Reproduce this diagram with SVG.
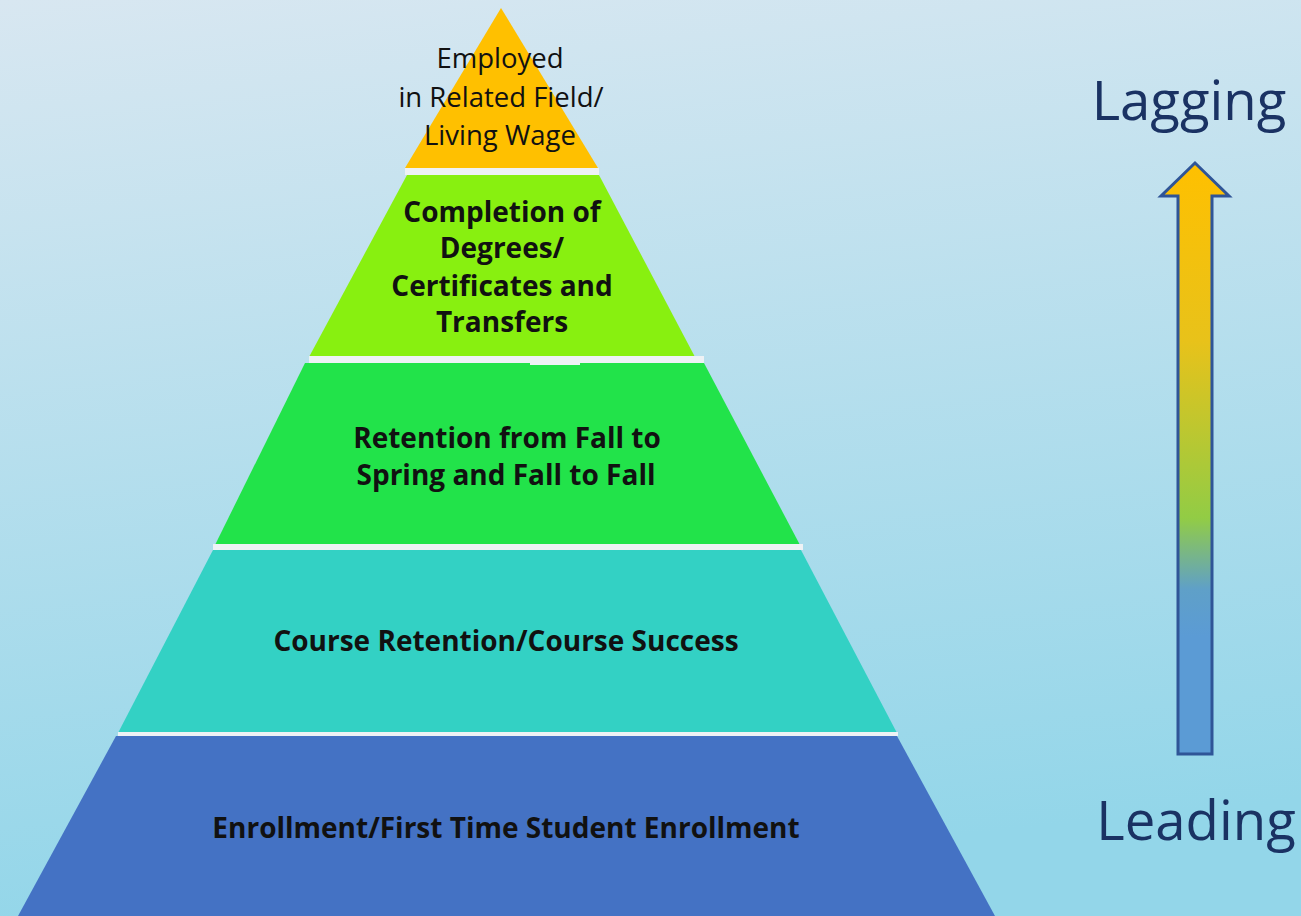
<svg xmlns="http://www.w3.org/2000/svg" width="1301" height="916" viewBox="0 0 1301 916">
<defs>
<linearGradient id="bg" x1="0" y1="0" x2="0.15" y2="1">
<stop offset="0" stop-color="#D8E7F1"/>
<stop offset="1" stop-color="#93D6E9"/>
</linearGradient>
<linearGradient id="arrowGrad" x1="0" y1="163" x2="0" y2="755" gradientUnits="userSpaceOnUse">
<stop offset="0" stop-color="#FFC000"/>
<stop offset="0.3" stop-color="#E8C21A"/>
<stop offset="0.6" stop-color="#92CC45"/>
<stop offset="0.72" stop-color="#5FA0C8"/>
<stop offset="0.8" stop-color="#5B9BD5"/>
<stop offset="1" stop-color="#5B9BD5"/>
</linearGradient>
<style>
.lbl{font-family:"Open Sans","Liberation Sans",sans-serif;font-weight:bold;font-size:28px;fill:#111;text-anchor:middle}
.top{font-family:"Open Sans","Liberation Sans",sans-serif;font-size:27.5px;fill:#111;text-anchor:middle}
.side{font-family:"Open Sans","Liberation Sans",sans-serif;font-size:54.5px;fill:#1A3263;text-anchor:middle}
.sep{fill:#EEF2F5}
</style>
</defs>
<rect width="1301" height="916" fill="url(#bg)"/>
<g id="layer1">
<polygon points="501,8 598,168 405,168" fill="#FFC000"/>
<rect class="sep" x="405" y="168" width="194" height="7"/>
<text class="top"><tspan x="500" y="68">Employed</tspan><tspan x="501" y="107">in Related Field/</tspan><tspan x="500" y="145">Living Wage</tspan></text>
</g>
<g id="layer2">
<polygon points="407,175 599,175 695,357 309,357" fill="#88F010"/>
<rect class="sep" x="309" y="356" width="395" height="7"/>
<text class="lbl"><tspan x="502" y="222">Completion of</tspan><tspan x="502" y="258">Degrees/</tspan><tspan x="502" y="296">Certificates and</tspan><tspan x="502" y="332">Transfers</tspan></text>
</g>
<g id="layer3">
<polygon points="305,363 704,363 800,545 215,545" fill="#22E34A"/>
<rect class="sep" x="530" y="362" width="50" height="3"/>
<rect class="sep" x="213" y="544" width="590" height="6"/>
<text class="lbl"><tspan x="507" y="448">Retention from Fall to</tspan><tspan x="506" y="485">Spring and Fall to Fall</tspan></text>
</g>
<g id="layer4">
<polygon points="213,550 801,550 897,733 118,733" fill="#33D1C4"/>
<rect class="sep" x="118" y="732" width="780" height="4"/>
<text class="lbl"><tspan x="506" y="651">Course Retention/Course Success</tspan></text>
</g>
<g id="layer5">
<polygon points="116,736 897,736 995,916 18,916" fill="#4472C4"/>
<text class="lbl"><tspan x="506" y="838">Enrollment/First Time Student Enrollment</tspan></text>
</g>
<g id="arrow">
<polygon points="1195,163 1229,196 1212,196 1212,754 1178,754 1178,196 1161,196" fill="url(#arrowGrad)" stroke="#2F5597" stroke-width="3" stroke-linejoin="miter"/>
</g>
<g id="labels">
<text class="side" x="1189" y="120">Lagging</text>
<text class="side" x="1196" y="840">Leading</text>
</g>
</svg>
